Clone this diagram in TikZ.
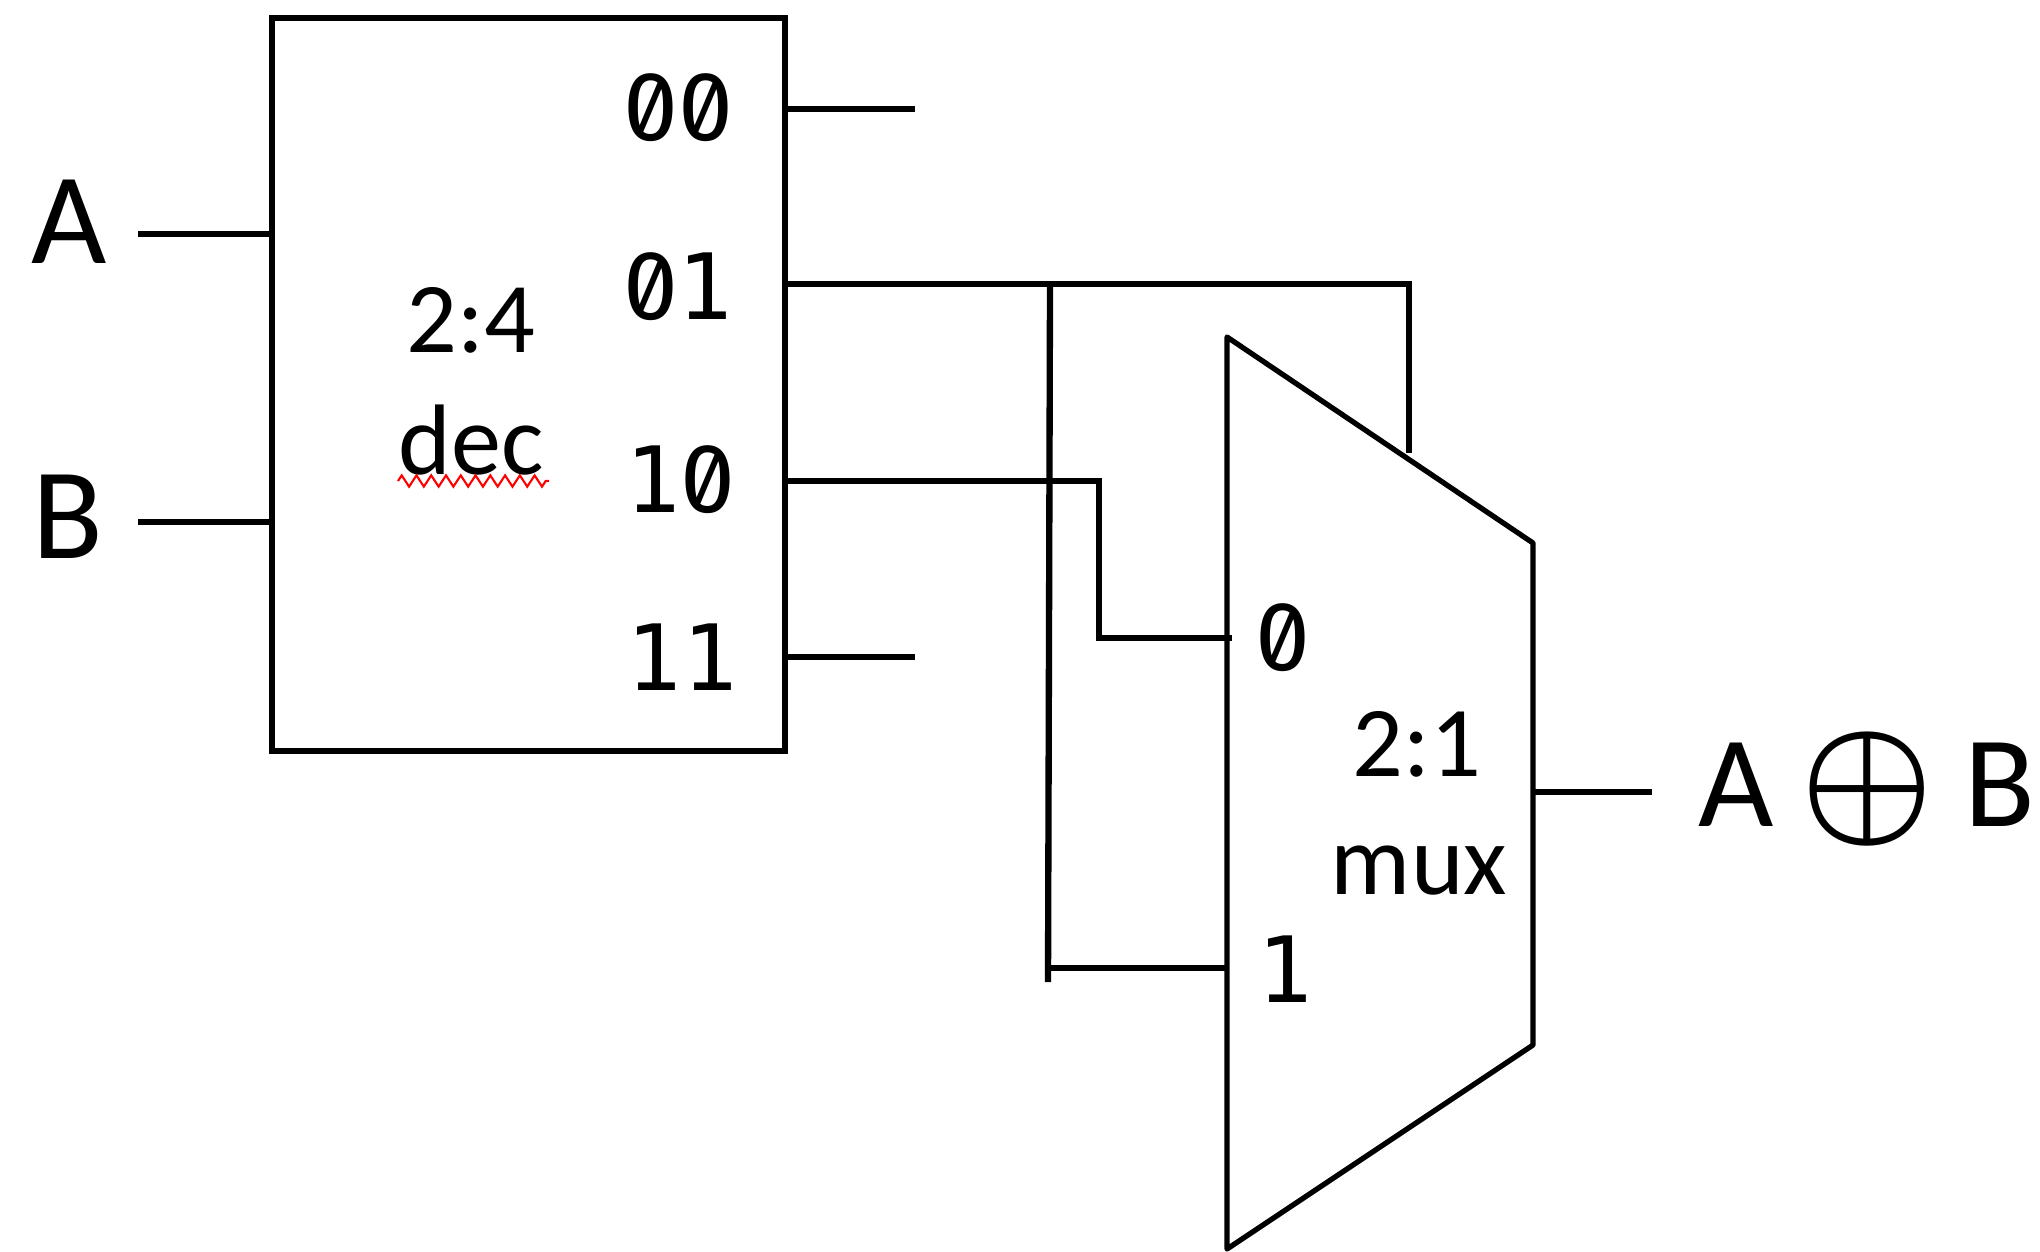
\documentclass[tikz,border=0pt]{standalone}
\usepackage{fix-cm}
\usepackage{fontspec}
\setmainfont{Carlito}
\newfontfamily\bitfont{DejaVu Sans Mono}
\newfontfamily\zerofont[RawFeature=+zero]{Fira Sans}
\newcommand{\bitzero}{{\fontsize{28}{30}\selectfont\zerofont 0}}
\usetikzlibrary{positioning}
\usetikzlibrary{decorations.pathmorphing}
\begin{document}
\begin{tikzpicture}
[x=0.01cm, y=-0.01cm,
% The box style is used to draw the decoder
box/.style={rectangle, draw, line width=1.6pt, inner sep=0pt, minimum width=5.13cm, minimum height=7.33cm},
% The bit style is used to write the ports' values
bit/.style={inner sep=0pt, font=\fontsize{26}{30}\selectfont\bitfont},
% The inside style is used to write the blocks' names
inside/.style={inner sep=0pt, font=\fontsize{28.5}{34}\selectfont},
% The signal style is used to write the inputs and the output
signal/.style={inner sep=0pt, font=\fontsize{37}{44}\selectfont},
wire/.style={line width=1.8pt}
]
\useasboundingbox (0,0) rectangle (2040,1251);
% Draw decoder
\node [box] (dec) at (528.5,384.5) {};
\node [inside] (declabel) at (471,320) {2:4};
\node [inside] (decname) at (471,440) {dec};
\coordinate (squigglea) at (398,481);
\coordinate (squiggleb) at (549,481);
\draw [red, line width=0.6pt, decorate, decoration={zigzag, amplitude=1.6pt, segment length=4.2pt}] (squigglea)--(squiggleb);
\node [bit] (zerozero) at (678,108) {\bitzero\bitzero};
\node [bit] (zeroone) at (678,287) {\bitzero 1};
\node [bit] (onezero) at (680,480) {1\bitzero};
\node [bit] (oneone) at (682,657) {11};
% Draw inputs
\node [signal] (a) at (69,222) {A};
\node [signal] (b) at (68,517) {B};
\coordinate (ain) at (138,234);
\coordinate (bin) at (138,522);
\draw [wire] (ain)--(ain -| dec.west);
\draw [wire] (bin)--(bin -| dec.west);
% Draw mux
\coordinate (muxa) at (1227,337);
\coordinate (muxb) at (1533,543);
\coordinate (muxc) at (1533,1045);
\coordinate (muxd) at (1227,1249);
\draw [line width=1.5pt, line join=round] (muxa)--(muxb)--(muxc)--(muxd)--cycle;
\node [inside] (muxlabel) at (1417,744) {2:1};
\node [inside] (muxname) at (1419,871) {mux};
\node [bit] (muxzerolabel) at (1283,638) {\bitzero};
\node [bit] (muxonelabel) at (1285,969) {1};
% Draw decoder outputs
\coordinate (outzero) at (915,109);
\coordinate (outthree) at (915,657);
\coordinate (outone) at (1409,284);
\coordinate (outonedown) at (1409,453);
\coordinate (outtwo) at (1099,481);
\coordinate (muxzero) at (1232,638);
\coordinate (branchtop) at (1050,284);
\coordinate (branchend) at (1048,982);
\coordinate (muxone) at (1227,968);
\draw [wire] (outzero -| dec.east)--(outzero);
\draw [wire] (outthree -| dec.east)--(outthree);
\draw [wire] (outone -| dec.east)--(outone)--(outonedown);
\draw [wire] (outtwo -| dec.east)--(outtwo)--(outtwo |- muxzero)--(muxzero);
\draw [wire] (branchtop)--(branchend);
\draw [wire] (branchend |- muxone)--(muxone);
% Draw output
\coordinate (muxout) at (1533,792);
\coordinate (resultin) at (1652,792);
\draw [wire] (muxout)--(resultin);
\node [signal, anchor=west] (result) at (1698,789) {A\hspace{0.2em}{\fontsize{42.5}{46}\selectfont\boldmath$\oplus$}\hspace{0.24em}B};
\end{tikzpicture}
\end{document}
